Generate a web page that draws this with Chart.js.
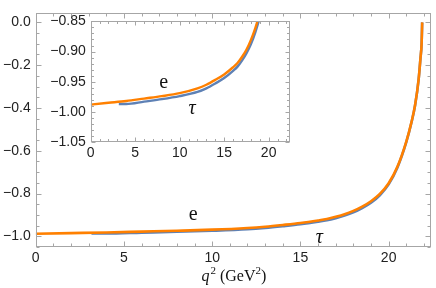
<!DOCTYPE html>
<html>
<head>
<meta charset="utf-8">
<script src="https://cdn.jsdelivr.net/npm/chart.js@4/dist/chart.umd.min.js"></script>
<style>
  html, body { margin: 0; padding: 0; background: #fff; }
  #wrap { position: relative; width: 436px; height: 288px; }
  #main { position: absolute; left: 0; top: 0; }
  #inset { position: absolute; left: 40px; top: 8px; }
</style>
</head>
<body>
<div id="wrap">
  <canvas id="main" width="436" height="288"></canvas>
  <canvas id="inset" width="260" height="158"></canvas>
</div>
<script>
// electron channel
const q2E = [0, 2, 4, 6, 8, 10, 12, 13, 14, 15, 16, 16.5, 17, 17.5, 18, 18.5, 19, 19.5, 20, 20.5, 21, 21.3, 21.5, 21.7, 21.8, 21.87, 21.9];
const valE = [-0.988, -0.985, -0.982, -0.978, -0.974, -0.969, -0.961, -0.955, -0.947, -0.938, -0.926, -0.919, -0.909, -0.897, -0.881, -0.861, -0.836, -0.802, -0.752, -0.674, -0.557, -0.464, -0.385, -0.265, -0.17, -0.095, 0];

// tau channel (starts at m_tau^2)
const q2Tau = [3.16, 4, 6, 8, 10, 12, 13, 14, 15, 16, 16.5, 17, 17.5, 18, 18.5, 19, 19.5, 20, 20.5, 21, 21.3, 21.5, 21.7, 21.8, 21.87, 21.9];
const valTau = [-0.987, -0.987, -0.983, -0.979, -0.974, -0.967, -0.961, -0.953, -0.944, -0.932, -0.925, -0.915, -0.903, -0.888, -0.868, -0.843, -0.808, -0.757, -0.678, -0.560, -0.466, -0.387, -0.266, -0.171, -0.095, 0];

// tick labels
const mainXTicks = [0, 5, 10, 15, 20];
const mainYTicks = [-1.0, -0.8, -0.6, -0.4, -0.2, 0.0];
const insetXTicks = [0, 5, 10, 15, 20];
const insetYTicks = [-1.05, -1.0, -0.95, -0.9, -0.85];

// curve labels: [text, q2, value]
const mainLabels = [['e', 8.93, -0.901], ['τ', 16.07, -1.006]];
const insetLabels = [['e', 8.19, -0.951], ['τ', 11.39, -0.995]];

const ORANGE = '#ff8000';
const BLUE = '#5e81b5';
const FRAME = '#a6a6a6';
const tickFont = { family: "'Liberation Sans', Arial, sans-serif", size: 14 };

function pts(xs, ys) {
    return xs.map((x, i) => ({ x: x, y: ys[i] }));
}

function minus(s) {
    return s.replace('-', '\u2212');
}

/**
 * Mathematica-style frame with inward ticks on all four sides
 */
function framePlugin(xMajor, xMinorStep, yMajor, yMinorStep, majLen, minLen) {
    return {
        id: 'frameTicks',
        afterDraw(chart) {
            const ctx = chart.ctx;
            const a = chart.chartArea;
            const xs = chart.scales.x, ys = chart.scales.y;
            const L = Math.round(a.left) + 0.5, R = Math.round(a.right) - 0.5;
            const T = Math.round(a.top) + 0.5, B = Math.round(a.bottom) - 0.5;
            ctx.save();
            ctx.strokeStyle = FRAME;
            ctx.lineWidth = 1;
            ctx.strokeRect(L, T, R - L, B - T);
            ctx.beginPath();
            const isMajor = (v, list) => list.some(m => Math.abs(m - v) < 1e-6);
            for (let v = Math.ceil(xs.min / xMinorStep) * xMinorStep; v <= xs.max + 1e-9; v += xMinorStep) {
                const len = isMajor(v, xMajor) ? majLen : minLen;
                const px = Math.round(xs.getPixelForValue(v)) + 0.5;
                ctx.moveTo(px, B); ctx.lineTo(px, B - len);
                ctx.moveTo(px, T); ctx.lineTo(px, T + len);
            }
            for (let v = Math.ceil(ys.min / yMinorStep - 1e-6) * yMinorStep; v <= ys.max + 1e-9; v += yMinorStep) {
                const len = isMajor(v, yMajor) ? majLen : minLen;
                const py = Math.round(ys.getPixelForValue(v)) + 0.5;
                ctx.moveTo(L, py); ctx.lineTo(L + len, py);
                ctx.moveTo(R, py); ctx.lineTo(R - len, py);
            }
            ctx.stroke();
            ctx.restore();
        }
    };
}

function labelPlugin(labels, size) {
    return {
        id: 'curveLabels',
        afterDraw(chart) {
            const ctx = chart.ctx;
            ctx.save();
            ctx.fillStyle = '#111';
            ctx.textAlign = 'center';
            ctx.textBaseline = 'middle';
            labels.forEach(([t, x, y]) => {
                ctx.font = (t === 'τ' ? 'italic ' : '') + size + "px 'Liberation Serif', serif";
                ctx.fillText(t, chart.scales.x.getPixelForValue(x), chart.scales.y.getPixelForValue(y));
            });
            ctx.restore();
        }
    };
}

// x axis title: q^2 (GeV^2)
const titlePlugin = {
    id: 'xTitle',
    afterDraw(chart) {
        const ctx = chart.ctx;
        const a = chart.chartArea;
        const parts = [
            ['q', 'italic 16px', 0],
            ['2', '11px', -7],
            [' (GeV', '16px', 0],
            ['2', '11px', -7],
            [')', '16px', 0]
        ];
        ctx.save();
        ctx.fillStyle = '#111';
        ctx.textBaseline = 'alphabetic';
        let w = 0;
        parts.forEach(p => { ctx.font = p[1] + " 'Liberation Serif', serif"; w += ctx.measureText(p[0]).width; });
        let x = (a.left + a.right) / 2 - w / 2;
        const base = 281;
        parts.forEach(p => {
            ctx.font = p[1] + " 'Liberation Serif', serif";
            ctx.fillText(p[0], x, base + p[2]);
            x += ctx.measureText(p[0]).width + (p[0] === 'q' ? 1 : 0);
        });
        ctx.restore();
    }
};

function makeChart(id, cfg) {
    return new Chart(document.getElementById(id).getContext('2d'), {
        type: 'line',
        data: {
            datasets: [
                { label: 'e', data: pts(q2E, valE), borderColor: ORANGE, borderWidth: cfg.lw, order: 0 },
                { label: 'tau', data: pts(q2Tau, valTau), borderColor: BLUE, borderWidth: cfg.lw, order: 1 }
            ]
        },
        options: {
            responsive: false,
            animation: false,
            devicePixelRatio: 1,
            layout: { padding: cfg.padding },
            elements: {
                point: { radius: 0 },
                line: { cubicInterpolationMode: 'monotone', fill: false }
            },
            plugins: { legend: { display: false }, tooltip: { enabled: false } },
            scales: {
                x: {
                    type: 'linear',
                    min: 0,
                    max: 22.4,
                    grid: { display: false, drawTicks: false },
                    border: { display: false },
                    afterBuildTicks: s => { s.ticks = cfg.xTicks.map(v => ({ value: v })); },
                    afterFit: s => { s.height = cfg.xHeight; },
                    ticks: {
                        autoSkip: false, maxRotation: 0, padding: cfg.xPad,
                        color: '#222', font: tickFont,
                        callback: v => String(v)
                    }
                },
                y: {
                    type: 'linear',
                    min: cfg.yMin,
                    max: cfg.yMax,
                    grid: { display: false, drawTicks: false },
                    border: { display: false },
                    afterBuildTicks: s => { s.ticks = cfg.yTicks.map(v => ({ value: v })); },
                    afterFit: s => { s.width = cfg.yWidth; },
                    ticks: {
                        autoSkip: false, padding: 5,
                        color: '#222', font: tickFont,
                        callback: v => minus(v.toFixed(cfg.dec))
                    }
                }
            }
        },
        plugins: cfg.plugins
    });
}

makeChart('main', {
    lw: 2.6,
    padding: { left: 0, top: 4, right: 5, bottom: 0 },
    xTicks: mainXTicks, yTicks: mainYTicks,
    yMin: -1.05, yMax: 0.042,
    xHeight: 41, yWidth: 35.7, xPad: 3, dec: 1,
    plugins: [framePlugin(mainXTicks, 1, mainYTicks, 0.05, 5, 3), labelPlugin(mainLabels, 20), titlePlugin]
});

makeChart('inset', {
    lw: 2.4,
    padding: { left: 0, top: 11, right: 10, bottom: 0 },
    xTicks: insetXTicks, yTicks: insetYTicks,
    yMin: -1.05, yMax: -0.85,
    xHeight: 24, yWidth: 50.7, xPad: 3, dec: 2,
    plugins: [framePlugin(insetXTicks, 1, insetYTicks, 0.01, 4, 2.5), labelPlugin(insetLabels, 20)]
});
</script>
</body>
</html>
